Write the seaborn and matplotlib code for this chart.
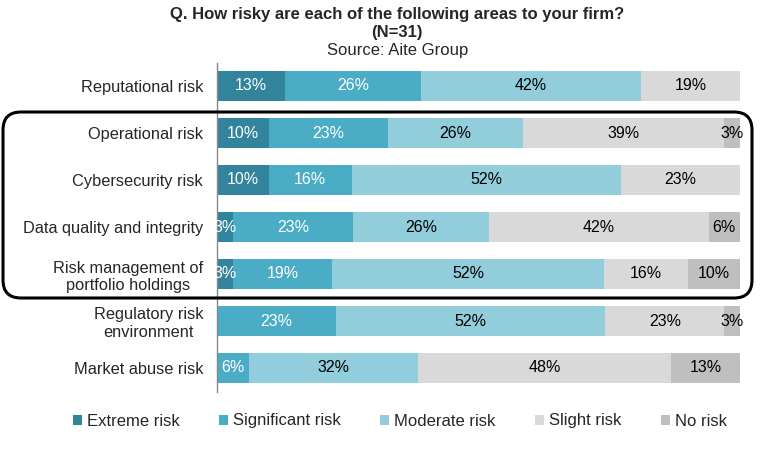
import numpy as np
import pandas as pd
import seaborn as sns
import matplotlib.pyplot as plt
from matplotlib.patches import FancyBboxPatch, Patch

# data
areas = ['Reputational risk', 'Operational risk', 'Cybersecurity risk',
         'Data quality and integrity', 'Risk management of\nportfolio holdings',
         'Regulatory risk\nenvironment', 'Market abuse risk']
levels = ['Extreme risk', 'Significant risk', 'Moderate risk', 'Slight risk', 'No risk']
extreme = [13, 10, 10, 3, 3, 0, 0]
significant = [26, 23, 16, 23, 19, 23, 6]
moderate = [42, 26, 52, 26, 52, 52, 32]
slight = [19, 39, 23, 42, 16, 23, 48]
no_risk = [0, 3, 0, 6, 10, 3, 13]

colors = ['#31849B', '#4BACC6', '#92CDDC', '#D9D9D9', '#BFBFBF']
text_colors = ['white', 'white', 'black', 'black', 'black']

df = pd.DataFrame({'area': areas, 'Extreme risk': extreme, 'Significant risk': significant,
                   'Moderate risk': moderate, 'Slight risk': slight, 'No risk': no_risk})

sns.set_style('white')
plt.rcParams['font.family'] = ['Liberation Sans', 'DejaVu Sans']

fig = plt.figure(figsize=(7.64, 4.5), dpi=100)
ax = fig.add_axes([217 / 764, 1 - 391.5 / 450, 523 / 764, 329 / 450])

# rounded percentages don't always add to 100, so each bar is scaled to full width
share = df[levels].div(df[levels].sum(axis=1), axis=0) * 100
cum = share.cumsum(axis=1)

# stacked bars: draw cumulative totals from the last level back to the first
for i in range(len(levels) - 1, -1, -1):
    sns.barplot(x=cum[levels[i]], y=df['area'], color=colors[i], orient='h',
                width=0.64, saturation=1, ax=ax, linewidth=0)

# segment labels
for i, lvl in enumerate(levels):
    starts = cum[lvl] - share[lvl]
    for j, v in enumerate(df[lvl]):
        if v > 0:
            ax.text(starts[j] + share[lvl][j] / 2, j, f'{v}%', ha='center', va='center',
                    color=text_colors[i], fontsize=11.5)

ax.set_xlim(0, 100)
ax.set_ylim(6.5, -0.5)
ax.set_xlabel('')
ax.set_ylabel('')
ax.set_xticks([])
ax.tick_params(axis='y', length=0, pad=10, labelsize=11.8)
for s in ['top', 'right', 'bottom']:
    ax.spines[s].set_visible(False)
ax.spines['left'].set_color('#888888')
ax.spines['left'].set_linewidth(1)
for lab in ax.get_yticklabels():
    lab.set_multialignment('center')

# titles
fig.text(0.52, 1 - 15 / 450, 'Q. How risky are each of the following areas to your firm?',
         ha='center', va='center', fontsize=12, fontweight='bold')
fig.text(0.52, 1 - 32 / 450, '(N=31)', ha='center', va='center', fontsize=12, fontweight='bold')
fig.text(0.52, 1 - 51 / 450, 'Source: Aite Group', ha='center', va='center', fontsize=12)

# rounded highlight box around the middle four rows (pixel coords)
box = FancyBboxPatch((3, 450 - 298), 749, 186, boxstyle='round,pad=0,rounding_size=18',
                     transform=None, fill=False, edgecolor='black', linewidth=2.2,
                     figure=fig)
fig.patches.append(box)

# legend
handles = [Patch(facecolor=c, edgecolor='none') for c in colors]
fig.legend(handles, levels, loc='center', bbox_to_anchor=(400 / 764, 1 - 421 / 450), ncol=5,
           frameon=False, fontsize=12, handlelength=0.55, handleheight=0.55,
           handletextpad=0.3, columnspacing=2.35)

fig.savefig('out.png', dpi=100)
